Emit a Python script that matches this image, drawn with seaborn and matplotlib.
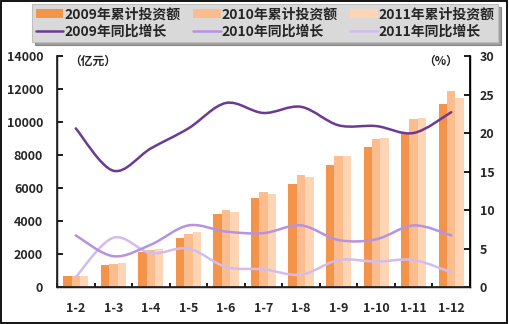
import matplotlib
matplotlib.use("Agg")
import matplotlib.pyplot as plt
import seaborn as sns
import pandas as pd
import numpy as np
from matplotlib.path import Path
from matplotlib.patches import PathPatch, Rectangle, Patch
from matplotlib.lines import Line2D

categories = ["1-2", "1-3", "1-4", "1-5", "1-6", "1-7", "1-8", "1-9", "1-10", "1-11", "1-12"]
inv_2009 = [650, 1340, 2150, 3000, 4400, 5420, 6270, 7420, 8480, 9350, 11080]
inv_2010 = [650, 1400, 2250, 3230, 4690, 5780, 6760, 7930, 8990, 10160, 11850]
inv_2011 = [650, 1480, 2310, 3350, 4560, 5660, 6690, 7910, 9030, 10220, 11480]
gr_2009 = [20.6, 15.1, 18.0, 20.6, 23.9, 22.6, 23.4, 21.0, 20.9, 20.0, 22.7]
gr_2010 = [6.7, 4.0, 5.5, 8.0, 7.2, 7.0, 8.0, 6.1, 6.2, 8.0, 6.7]
gr_2011 = [1.3, 6.4, 4.4, 5.0, 2.6, 2.3, 1.6, 3.5, 3.3, 3.5, 1.9]

bar_labels = ["2009年累计投资额", "2010年累计投资额", "2011年累计投资额"]
line_labels = ["2009年同比增长", "2010年同比增长", "2011年同比增长"]
bar_colors = ["#f4944a", "#fbbd8d", "#fdd5b4"]
line_colors = ["#6b3a96", "#b692e0", "#d2bcef"]

sns.set_theme(style="white")
plt.rcParams["font.family"] = ["Noto Sans CJK SC", "DejaVu Sans"]

df = pd.DataFrame({
    "cat": categories * 3,
    "value": inv_2009 + inv_2010 + inv_2011,
    "series": [bar_labels[0]] * 11 + [bar_labels[1]] * 11 + [bar_labels[2]] * 11,
})

fig = plt.figure(figsize=(5.09, 3.24), dpi=100)
ax = fig.add_axes([57 / 509, 1 - 287 / 324, 413 / 509, 231 / 324])
sns.barplot(data=df, x="cat", y="value", hue="series", palette=bar_colors,
            width=0.67, ax=ax, legend=False, saturation=1, edgecolor="none")
ax.set_xlim(-0.5, 10.5)
ax.set_ylim(0, 14000)
ax.set_yticks(np.arange(0, 14001, 2000))
ax.set_xlabel("")
ax.set_ylabel("")
for s in ["left", "bottom", "right"]:
    ax.spines[s].set_visible(True)
    ax.spines[s].set_color("black")
    ax.spines[s].set_linewidth(1.0)
ax.spines["top"].set_visible(False)

ax.set_xticks(np.arange(-0.5, 10.6, 1.0))
ax.set_xticklabels([])
ax.set_xticks(np.arange(0, 11), minor=True)
ax.set_xticklabels(categories, minor=True, fontsize=9, fontweight="bold")
ax.tick_params(axis="x", which="major", direction="in", length=3, color="black", bottom=True)
ax.tick_params(axis="x", which="minor", length=0, pad=11)
ax.tick_params(axis="y", direction="in", length=4, color="black", left=True,
               labelsize=9, pad=10)
for t in ax.get_yticklabels():
    t.set_fontweight("bold")

ax2 = ax.twinx()
ax2.set_ylim(0, 30)
ax2.set_yticks(np.arange(0, 31, 5))
ax2.spines["top"].set_visible(False)
ax2.spines["right"].set_color("black")
ax2.tick_params(axis="y", direction="in", length=4, color="black", right=True,
                labelsize=9, pad=7)
for t in ax2.get_yticklabels():
    t.set_fontweight("bold")


def smooth_path(xs, ys):
    pts = np.column_stack([xs, ys]).astype(float)
    n = len(pts)
    verts = [pts[0]]
    codes = [Path.MOVETO]
    for i in range(n - 1):
        p0 = pts[i - 1] if i > 0 else pts[i]
        p1 = pts[i]
        p2 = pts[i + 1]
        p3 = pts[i + 2] if i + 2 < n else pts[i + 1]
        c1 = p1 + (p2 - p0) / 6.0
        c2 = p2 - (p3 - p1) / 6.0
        verts += [c1, c2, p2]
        codes += [Path.CURVE4] * 3
    return Path(verts, codes)


xs = np.arange(len(categories))
for series, col, lw in [(gr_2011, line_colors[2], 1.8), (gr_2010, line_colors[1], 1.8),
                        (gr_2009, line_colors[0], 1.8)]:
    ax2.add_patch(PathPatch(smooth_path(xs, series), facecolor="none",
                            edgecolor=col, lw=lw, capstyle="round", zorder=3))

ax.text(0.03, 0.975, "（亿元）", transform=ax.transAxes, fontsize=8.5,
        fontweight="bold", ha="left", va="center")
ax.text(0.93, 0.975, "（%）", transform=ax.transAxes, fontsize=8.5,
        fontweight="bold", ha="center", va="center")

handles = []
labels = []
for i in range(3):
    handles.append(Patch(facecolor=bar_colors[i], edgecolor="none"))
    labels.append(bar_labels[i])
    handles.append(Line2D([0], [0], color=line_colors[i], lw=1.8))
    labels.append(line_labels[i])
leg = fig.legend(handles, labels, ncol=3, loc="upper center",
                 bbox_to_anchor=(265 / 509, 1 - 4 / 324),
                 frameon=True, fancybox=False, shadow=True,
                 facecolor="#d9d9d9", edgecolor="#bfbfbf",
                 prop={"size": 10, "weight": "bold"},
                 handlelength=2.0, handleheight=0.6, handletextpad=0.05,
                 columnspacing=0.9, labelspacing=0.2, borderpad=0.25, borderaxespad=0)
leg.get_frame().set_linewidth(0.8)

fig.patches.append(Rectangle((0.002, 0.003), 0.995, 0.994, transform=fig.transFigure,
                             fill=False, edgecolor="black", lw=1.3))

fig.savefig("out.png", dpi=100)
